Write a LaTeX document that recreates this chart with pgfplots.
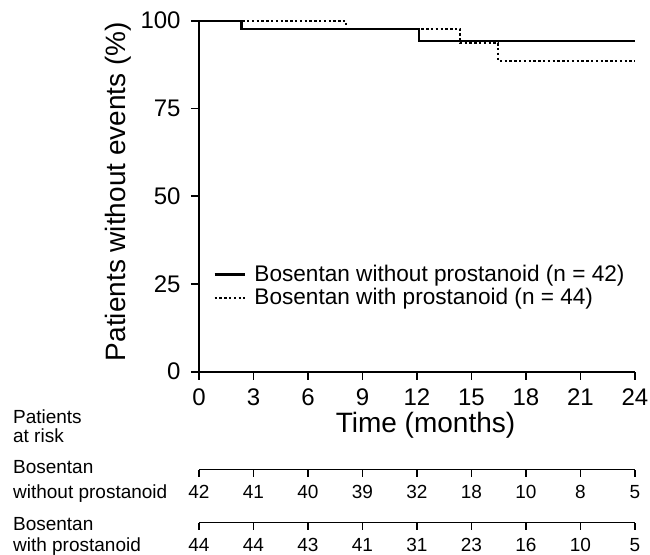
\documentclass[border=0pt]{standalone}
\usepackage{fontspec}
\setmainfont{Liberation Sans}
\usepackage{pgfplots}
\pgfplotsset{compat=1.18}
\pgfplotsset{/pgf/number format/assume math mode=true}
\begin{document}
\begin{tikzpicture}
\useasboundingbox (-99.5pt,-91.15pt) rectangle (225.5pt,185.85pt);
\begin{axis}[
  at={(0pt,0pt)}, anchor=south west,
  scale only axis,
  width=218pt, height=175.5pt,
  xmin=0, xmax=24, ymin=0, ymax=100,
  axis lines=left,
  axis line style={-, line width=0.85pt},
  tick align=outside,
  major tick length=4pt,
  tick style={line width=0.85pt, black},
  xtick={0,3,...,24},
  ytick={0,25,50,75,100},
  tick label style={font=\fontsize{12}{14}\selectfont},
  xticklabel style={anchor=base, inner sep=0pt, yshift=-12.65pt},
  yticklabel style={anchor=east, inner sep=0pt, xshift=-5pt},
  label style={font=\fontsize{14}{16}\selectfont},
  xlabel={Time (months)},
  ylabel={Patients without events (\%)},
  xlabel style={at={(axis description cs:0.5195,-0.1746)}, anchor=base},
  ylabel style={at={(axis description cs:-0.1697,0.5134)}, anchor=base},
  clip=false,
  legend cell align=left,
  legend image code/.code={\draw[#1] (0pt,0pt) -- (15pt,0pt);},
  legend style={at={(axis cs:0.77,31.03)}, anchor=north west,
    draw=none, fill=none, inner sep=0pt, row sep=0pt, column sep=4.35pt,
    font=\fontsize{11.3}{13}\selectfont,
    nodes={inner sep=0pt, text height=9.3pt, text depth=2.2pt}},
]
% Bosentan without prostanoid
\addplot[const plot, black, line width=1.2pt] coordinates {
  (0,100) (2.35,97.6) (12.12,94.2) (24,94.2)
};
% Bosentan with prostanoid
\addplot[const plot, black, line width=1.1pt, dash pattern=on 1.2pt off 1.2pt] coordinates {
  (0,100) (8.07,97.7) (14.36,93.6) (16.47,88.6) (24,88.6)
};
\legend{Bosentan without prostanoid (n = 42), Bosentan with prostanoid (n = 44)}
\end{axis}

% patients at risk: without prostanoid
\begin{axis}[
  at={(0pt,-48.9pt)}, anchor=south west,
  scale only axis, width=218pt, height=5pt,
  xmin=0, xmax=24, ymin=0, ymax=1,
  axis x line=bottom, axis y line=none,
  axis line style={-, line width=0.6pt},
  tick align=outside, major tick length=3.5pt,
  tick style={line width=0.6pt, black},
  xtick={0,3,...,24},
  xticklabels={42,41,40,39,32,18,10,8,5},
  xticklabel style={font=\fontsize{9.5}{11}\selectfont, anchor=base, inner sep=0pt, yshift=-10.75pt},
]
\end{axis}

% patients at risk: with prostanoid
\begin{axis}[
  at={(0pt,-75.4pt)}, anchor=south west,
  scale only axis, width=218pt, height=5pt,
  xmin=0, xmax=24, ymin=0, ymax=1,
  axis x line=bottom, axis y line=none,
  axis line style={-, line width=0.6pt},
  tick align=outside, major tick length=3.5pt,
  tick style={line width=0.6pt, black},
  xtick={0,3,...,24},
  xticklabels={44,44,43,41,31,23,16,10,5},
  xticklabel style={font=\fontsize{9.5}{11}\selectfont, anchor=base, inner sep=0pt, yshift=-10.75pt},
]
\end{axis}

\begin{scope}[every node/.style={anchor=base west, inner sep=0pt, font=\fontsize{9.5}{11}\selectfont}]
  \node at (-93.15pt,-25.65pt) {Patients};
  \node at (-93.15pt,-35.15pt) {at risk};
  \node at (-93.15pt,-51pt) {Bosentan};
  \node at (-93.15pt,-63.15pt) {without prostanoid};
  \node at (-93.15pt,-79.6pt) {Bosentan};
  \node at (-93.15pt,-89.7pt) {with prostanoid};
\end{scope}
\end{tikzpicture}
\end{document}
